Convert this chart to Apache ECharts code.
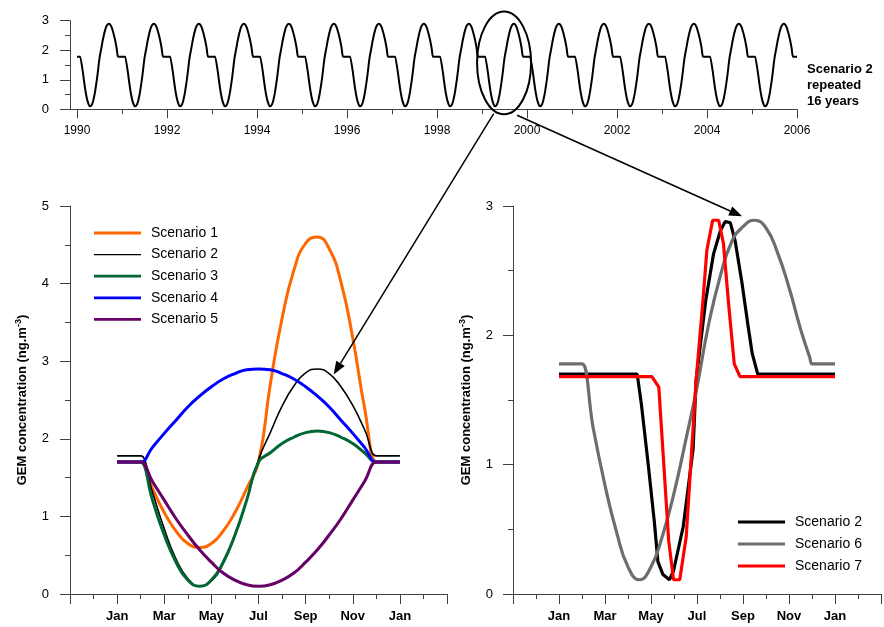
<!DOCTYPE html>
<html><head><meta charset="utf-8">
<script src="https://cdn.jsdelivr.net/npm/echarts@6/dist/echarts.min.js"></script>
<style>html,body{margin:0;padding:0;background:#fff}#c{width:884px;height:627px}</style>
</head><body><div id="c"></div>
<script>
const FONT = "'Liberation Sans', Arial, Helvetica, sans-serif";

// ---------- DATA ----------
// month axis: 0 = Jan, 12 = Jan of next year
const monthsLeft = [0,0.9,1,1.5,2,2.5,3,3.5,4,4.5,5,5.5,6,6.5,7,7.5,8,8.5,9,9.5,10,10.5,11,11.1,12];
const scenario1 = [1.70,1.70,1.70,1.36,1.05,0.81,0.65,0.60,0.65,0.81,1.05,1.36,1.70,2.70,3.55,4.17,4.52,4.60,4.45,4.02,3.30,2.40,1.70,1.70,1.70];
const scenario2 = [1.78,1.78,1.78,1.31,0.84,0.45,0.20,0.10,0.17,0.39,0.75,1.21,1.73,2.08,2.42,2.68,2.85,2.90,2.84,2.67,2.43,2.12,1.78,1.78,1.78];
const scenario3 = [1.70,1.70,1.70,1.21,0.76,0.41,0.18,0.10,0.18,0.41,0.76,1.21,1.70,1.82,1.94,2.02,2.08,2.10,2.08,2.02,1.94,1.82,1.70,1.70,1.70];
const scenario4 = [1.70,1.70,1.70,1.89,2.07,2.24,2.41,2.55,2.67,2.77,2.84,2.89,2.90,2.89,2.84,2.77,2.67,2.55,2.41,2.24,2.07,1.89,1.70,1.70,1.70];
const scenario5 = [1.70,1.70,1.70,1.45,1.21,0.97,0.76,0.57,0.41,0.27,0.18,0.12,0.10,0.12,0.18,0.27,0.41,0.57,0.76,0.97,1.21,1.45,1.70,1.70,1.70];

// right panel
const s2RightMonths = [0,3.4,3.58,3.88,4.15,4.3,4.52,4.8,4.98,5.4,5.83,5.96,6.38,6.72,7.02,7.23,7.45,7.66,7.96,8.23,8.4,8.64,12];
const s2RightValues = [1.70,1.70,1.47,1.00,0.55,0.25,0.15,0.11,0.18,0.52,1.12,1.65,2.27,2.63,2.81,2.88,2.87,2.73,2.40,2.06,1.86,1.70,1.70];
const s6Months = [0,0.9,1,1.5,2,2.5,3,3.5,4,4.5,5,5.5,6,6.5,7,7.5,8,8.5,9,9.5,10,10.5,10.9,11,11.1,12];
const s6Values = [1.78,1.78,1.78,1.27,0.84,0.48,0.21,0.11,0.21,0.45,0.78,1.18,1.60,2.08,2.45,2.72,2.84,2.89,2.83,2.64,2.37,2.05,1.83,1.78,1.78,1.78];
const s7Months = [0,4.04,4.34,4.77,4.98,5.25,5.53,5.96,6.26,6.43,6.68,6.94,7.15,7.36,7.62,7.87,12];
const s7Values = [1.68,1.68,1.60,0.41,0.11,0.11,0.44,1.65,2.27,2.66,2.89,2.89,2.71,2.27,1.78,1.68,1.68];

// top panel: scenario 2 repeated for 16 years
const startYear = 1990;
const nYears = 16;
const yearLabels = [1990,1992,1994,1996,1998,2000,2002,2004,2006];
const yearMinorTicks = [1991,1993,1995,1997,1999,2001,2003,2005];
const monthLabelPos = [0,2,4,6,8,10,12];
const monthLabels = ['Jan','Mar','May','Jul','Sep','Nov','Jan'];

// ---------- BUILD ----------
const pairs = (xs, ys) => xs.map((x, i) => [x, ys[i]]);
const topData = [];
for (let k = 0; k < nYears; k++) {
  for (let i = 0; i < monthsLeft.length - 1; i++) topData.push([startYear + k + monthsLeft[i] / 12, scenario2[i]]);
}
topData.push([startYear + nYears, scenario2[scenario2.length - 1]]);

const AX = '#404040';
const SM = 0.5;
const monthFmt = v => { const i = monthLabelPos.indexOf(v); return i >= 0 ? monthLabels[i] : ''; };

const chart = echarts.init(document.getElementById('c'), null, {renderer: 'canvas'});
const yName = '{b|GEM concentration (ng.m}{s|-3}{b|)}';
const yNameStyle = {rich: {
  b: {fontFamily: FONT, fontWeight: 'bold', fontSize: 13, color: '#000', lineHeight: 16},
  s: {fontFamily: FONT, fontWeight: 'bold', fontSize: 9, color: '#000', verticalAlign: 'top', lineHeight: 16}
}};
const axLine = {show: true, onZero: false, lineStyle: {color: AX, width: 1}};
const thick = 'path://M0,0L100,0L100,6L0,6Z';
const thin = 'path://M0,0L100,0L100,3L0,3Z';

const option = {
  animation: false,
  backgroundColor: '#fff',
  textStyle: {fontFamily: FONT},
  grid: [
    {left: 70, top: 20.7, width: 727, height: 88.6},
    {left: 70, top: 206, width: 377, height: 388},
    {left: 513, top: 206, width: 376, height: 388}
  ],
  xAxis: [
    {gridIndex: 0, type: 'value', min: 1989.844, max: 2006, position: 'bottom',
     axisLine: axLine, splitLine: {show: false},
     axisTick: {show: true, customValues: yearLabels, length: 9, lineStyle: {color: AX}},
     axisLabel: {customValues: yearLabels, formatter: v => String(v), fontSize: 12, color: '#000', margin: 15, fontFamily: FONT}},
    {gridIndex: 0, type: 'value', min: 1989.844, max: 2006, position: 'bottom',
     axisLine: {show: false, onZero: false}, splitLine: {show: false},
     axisTick: {show: true, customValues: yearMinorTicks, length: 5, lineStyle: {color: AX}},
     axisLabel: {show: false}},
    {gridIndex: 1, type: 'value', min: -2, max: 14, interval: 2,
     axisLine: axLine, splitLine: {show: false},
     axisTick: {show: true, length: 10, lineStyle: {color: AX}},
     minorTick: {show: true, splitNumber: 2, length: 5, lineStyle: {color: AX}},
     axisLabel: {formatter: monthFmt, fontSize: 13, fontWeight: 'bold', color: '#000', margin: 16, fontFamily: FONT}},
    {gridIndex: 2, type: 'value', min: -2, max: 14, interval: 2,
     axisLine: axLine, splitLine: {show: false},
     axisTick: {show: true, length: 10, lineStyle: {color: AX}},
     minorTick: {show: true, splitNumber: 2, length: 5, lineStyle: {color: AX}},
     axisLabel: {formatter: monthFmt, fontSize: 13, fontWeight: 'bold', color: '#000', margin: 16, fontFamily: FONT}}
  ],
  yAxis: [
    {gridIndex: 0, type: 'value', min: 0, max: 3, interval: 1,
     axisLine: axLine, splitLine: {show: false},
     axisTick: {show: true, length: 10, lineStyle: {color: AX}},
     minorTick: {show: true, splitNumber: 2, length: 5, lineStyle: {color: AX}},
     axisLabel: {fontSize: 13, color: '#000', margin: 21, fontFamily: FONT}},
    {gridIndex: 1, type: 'value', min: 0, max: 5, interval: 1,
     axisLine: axLine, splitLine: {show: false},
     axisTick: {show: true, length: 10, lineStyle: {color: AX}},
     minorTick: {show: true, splitNumber: 2, length: 5, lineStyle: {color: AX}},
     axisLabel: {fontSize: 13, color: '#000', margin: 21, fontFamily: FONT},
     name: yName, nameLocation: 'middle', nameGap: 40, nameTextStyle: yNameStyle},
    {gridIndex: 2, type: 'value', min: 0, max: 3, interval: 1,
     axisLine: axLine, splitLine: {show: false},
     axisTick: {show: true, length: 10, lineStyle: {color: AX}},
     minorTick: {show: true, splitNumber: 2, length: 5, lineStyle: {color: AX}},
     axisLabel: {fontSize: 13, color: '#000', margin: 20, fontFamily: FONT},
     name: yName, nameLocation: 'middle', nameGap: 39, nameTextStyle: yNameStyle}
  ],
  legend: [
    {orient: 'vertical', left: 89, top: 221, itemWidth: 47, itemHeight: 14, itemGap: 7.6,
     icon: thick, selectedMode: false, itemStyle: {borderWidth: 0},
     textStyle: {fontSize: 14, color: '#000', fontFamily: FONT, lineHeight: 14, padding: [0, 0, 0, 5]},
     data: [{name: 'Scenario 1'}, {name: 'Scenario 2', icon: thin}, {name: 'Scenario 3'}, {name: 'Scenario 4'}, {name: 'Scenario 5'}]},
    {orient: 'vertical', left: 733, top: 510, itemWidth: 47, itemHeight: 14, itemGap: 8,
     icon: thick, selectedMode: false, itemStyle: {borderWidth: 0},
     textStyle: {fontSize: 14, color: '#000', fontFamily: FONT, lineHeight: 14, padding: [0, 0, 0, 5]},
     data: [{name: 'Scenario 2'}, {name: 'Scenario 6'}, {name: 'Scenario 7'}]}
  ],
  series: [
    {type: 'line', xAxisIndex: 0, yAxisIndex: 0, data: topData, symbol: 'none', smooth: SM,
     color: '#000', lineStyle: {color: '#000', width: 2}},
    {name: 'Scenario 1', type: 'line', xAxisIndex: 2, yAxisIndex: 1, data: pairs(monthsLeft, scenario1), symbol: 'none', smooth: SM,
     color: '#FF6600', lineStyle: {color: '#FF6600', width: 3}},
    {name: 'Scenario 2', type: 'line', xAxisIndex: 2, yAxisIndex: 1, data: pairs(monthsLeft, scenario2), symbol: 'none', smooth: SM,
     color: '#000000', lineStyle: {color: '#000', width: 1.6}},
    {name: 'Scenario 3', type: 'line', xAxisIndex: 2, yAxisIndex: 1, data: pairs(monthsLeft, scenario3), symbol: 'none', smooth: SM,
     color: '#006633', lineStyle: {color: '#006633', width: 3}},
    {name: 'Scenario 4', type: 'line', xAxisIndex: 2, yAxisIndex: 1, data: pairs(monthsLeft, scenario4), symbol: 'none', smooth: SM,
     color: '#0000FF', lineStyle: {color: '#0000FF', width: 3}},
    {name: 'Scenario 5', type: 'line', xAxisIndex: 2, yAxisIndex: 1, data: pairs(monthsLeft, scenario5), symbol: 'none', smooth: SM,
     color: '#660066', lineStyle: {color: '#660066', width: 3}},
    {name: 'Scenario 2', type: 'line', xAxisIndex: 3, yAxisIndex: 2, data: pairs(s2RightMonths, s2RightValues), symbol: 'none',
     color: '#000000', lineStyle: {color: '#000', width: 3.2}},
    {name: 'Scenario 6', type: 'line', xAxisIndex: 3, yAxisIndex: 2, data: pairs(s6Months, s6Values), symbol: 'none', smooth: SM,
     color: '#6D6D6D', lineStyle: {color: '#6D6D6D', width: 3.2}},
    {name: 'Scenario 7', type: 'line', xAxisIndex: 3, yAxisIndex: 2, data: pairs(s7Months, s7Values), symbol: 'none',
     color: '#FF0000', lineStyle: {color: '#FF0000', width: 3.2}}
  ]
};
chart.setOption(option);

// ---------- ANNOTATIONS (positioned in data space, converted via the axes) ----------
const toPx = (g, p) => chart.convertToPixel({gridIndex: g}, p);
const ellC = toPx(0, [1999.49, 1.57]);
const ellE = toPx(0, [1999.49 + 0.6, 1.57 + 1.74]);
function arrow(a, b) {
  const dx = b[0] - a[0], dy = b[1] - a[1], L = Math.hypot(dx, dy);
  const ux = dx / L, uy = dy / L, nx = -uy, ny = ux, hl = 13, hw = 5;
  const bx = b[0] - ux * hl, by = b[1] - uy * hl;
  return [
    {type: 'line', shape: {x1: a[0], y1: a[1], x2: bx, y2: by}, style: {stroke: '#000', lineWidth: 1.5}, z: 100},
    {type: 'polygon', shape: {points: [[b[0], b[1]], [bx + nx * hw, by + ny * hw], [bx - nx * hw, by - ny * hw]]}, style: {fill: '#000'}, z: 100}
  ];
}
const a1 = arrow(toPx(0, [1999.26, -0.15]), toPx(1, [9.19, 2.83]));
const a2 = arrow(toPx(0, [1999.78, -0.2]), toPx(2, [7.96, 2.92]));
chart.setOption({
  graphic: [
    {type: 'ellipse', shape: {cx: ellC[0], cy: ellC[1], rx: ellE[0] - ellC[0], ry: ellC[1] - ellE[1]},
     style: {fill: 'none', stroke: '#000', lineWidth: 2}, z: 100},
    ...a1, ...a2,
    {type: 'text', left: 807, top: 61, z: 100,
     style: {text: 'Scenario 2\nrepeated\n16 years', fontFamily: FONT, fontWeight: 'bold', fontSize: 13, lineHeight: 16, fill: '#000'}}
  ]
});
</script>
</body></html>
